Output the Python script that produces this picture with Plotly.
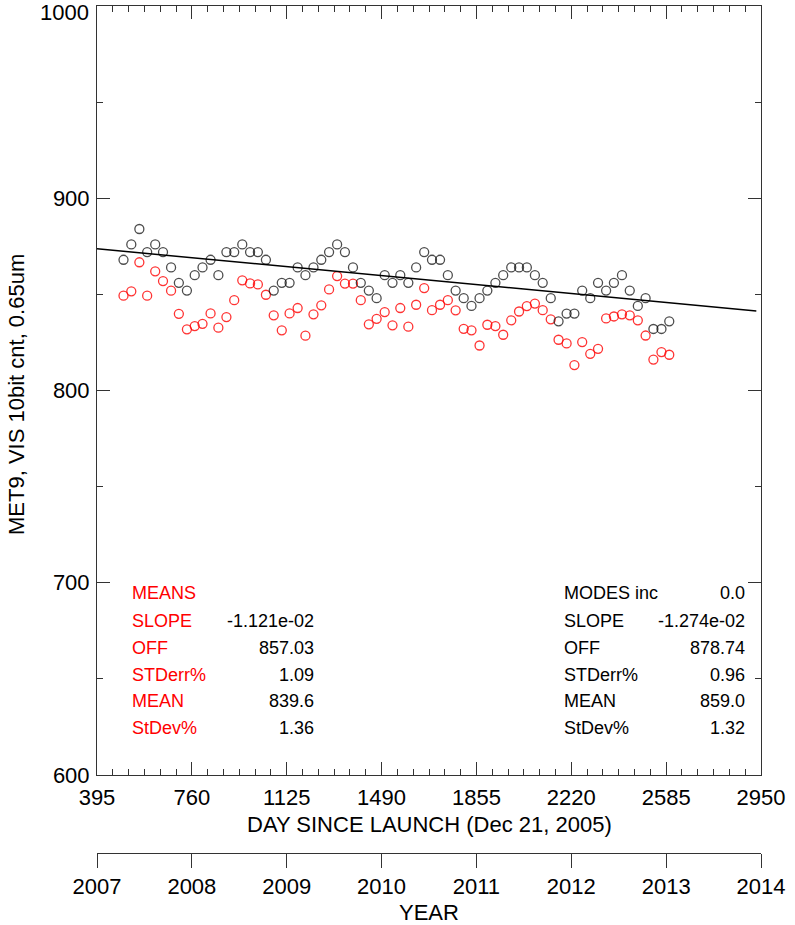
import plotly.graph_objects as go

# ---- data ----
days = [497, 527, 558, 588, 619, 649, 680, 710, 741, 771,
        801, 832, 862, 893, 923, 954, 984, 1014, 1045, 1075,
        1106, 1136, 1167, 1197, 1228, 1258, 1288, 1319, 1349, 1380,
        1410, 1441, 1471, 1502, 1532, 1562, 1593, 1623, 1654, 1684,
        1715, 1745, 1775, 1806, 1836, 1867, 1897, 1928, 1958, 1989,
        2019, 2049, 2080, 2110, 2141, 2171, 2202, 2232, 2262, 2293,
        2323, 2354, 2384, 2415, 2445, 2476, 2506, 2536, 2567, 2597]

modes = [868, 876, 884, 872, 876, 872, 864, 856, 852, 860,
         864, 868, 860, 872, 872, 876, 872, 872, 868, 852,
         856, 856, 864, 860, 864, 868, 872, 876, 872, 864,
         856, 852, 848, 860, 856, 860, 856, 864, 872, 868,
         868, 860, 852, 848, 844, 848, 852, 856, 860, 864,
         864, 864, 860, 856, 848, 836, 840, 840, 852, 848,
         856, 852, 856, 860, 852, 844, 848, 832, 832, 836]

means = [849.3, 851.6, 866.7, 849.3, 862.0, 856.9, 851.9, 839.9, 831.8, 833.5,
         834.7, 840.1, 832.7, 838.2, 847.0, 857.3, 855.7, 855.2, 849.8, 839.1,
         831.3, 840.1, 842.9, 828.5, 839.6, 844.3, 852.6, 859.5, 855.6, 855.6,
         847.0, 834.4, 837.3, 840.8, 833.9, 842.9, 833.2, 844.6, 853.3, 841.8,
         844.6, 847.0, 841.7, 832.1, 831.3, 823.4, 834.2, 833.5, 829.0, 836.5,
         841.1, 843.9, 845.2, 841.8, 837.0, 826.4, 824.5, 813.2, 825.2, 819.1,
         821.7, 837.5, 838.5, 839.6, 839.1, 836.5, 828.6, 816.1, 820.0, 818.6]

fit_slope = -1.274e-02
fit_off = 878.74
fit_days = [395, 2932]

day_ticks = [395, 760, 1125, 1490, 1855, 2220, 2585, 2950]
year_ticks = [2007, 2008, 2009, 2010, 2011, 2012, 2013, 2014]
y_ticks = [600, 700, 800, 900, 1000]

left_labels = ["MEANS", "SLOPE", "OFF", "STDerr%", "MEAN", "StDev%"]
left_values = ["", "-1.121e-02", "857.03", "1.09", "839.6", "1.36"]
right_labels = ["MODES inc", "SLOPE", "OFF", "STDerr%", "MEAN", "StDev%"]
right_values = ["0.0", "-1.274e-02", "878.74", "0.96", "859.0", "1.32"]

FONT = "Liberation Sans, Arial, Helvetica, sans-serif"
AX = "#333333"

fig = go.Figure()

fig.add_trace(go.Scatter(
    x=days, y=means, mode="markers",
    marker=dict(symbol="circle-open", size=9, color="rgba(255,0,0,0.8)",
                line=dict(width=1.3, color="rgba(255,0,0,0.8)")),
    showlegend=False, hoverinfo="skip"))

fig.add_trace(go.Scatter(
    x=days, y=modes, mode="markers",
    marker=dict(symbol="circle-open", size=9, color="rgba(0,0,0,0.7)",
                line=dict(width=1.3, color="rgba(0,0,0,0.7)")),
    showlegend=False, hoverinfo="skip"))

fig.add_trace(go.Scatter(
    x=fit_days, y=[fit_off + fit_slope * d for d in fit_days], mode="lines",
    line=dict(color="black", width=1.5),
    showlegend=False, hoverinfo="skip"))

# dummy trace on the year axis
fig.add_trace(go.Scatter(
    x=[year_ticks[0], year_ticks[-1]], y=[700, 700], xaxis="x2", yaxis="y",
    mode="markers", marker=dict(opacity=0, size=1),
    showlegend=False, hoverinfo="skip"))

L, R, T, B = 97, 34, 6, 72
W, H = 795, 925
pw = W - L - R
ph = H - T - B
main_bottom = (H - B - 775) / ph

fig.update_layout(
    width=W, height=H,
    margin=dict(l=L, r=R, t=T, b=B),
    paper_bgcolor="white", plot_bgcolor="white",
    font=dict(family=FONT, size=22, color="black"),
    xaxis=dict(
        range=[395, 2950], tickvals=day_ticks, ticktext=[str(v) for v in day_ticks],
        ticks="inside", ticklen=13, tickwidth=1, tickcolor=AX,
        showline=True, linecolor=AX, linewidth=1, mirror="ticks",
        showgrid=False, zeroline=False,
        minor=dict(tick0=395, dtick=365 / 6, ticks="inside", ticklen=6,
                   tickcolor=AX, tickwidth=1, showgrid=False),
        tickfont=dict(size=22, color="black"),
        ticklabelstandoff=3,
        anchor="y", automargin=False,
    ),
    yaxis=dict(
        range=[600, 1000], tickvals=y_ticks,
        ticktext=[str(v) for v in y_ticks[:-1]] + [""],
        ticks="inside", ticklen=13, tickwidth=1, tickcolor=AX,
        showline=True, linecolor=AX, linewidth=1, mirror="ticks",
        showgrid=False, zeroline=False,
        minor=dict(dtick=50, ticks="inside", ticklen=6, tickcolor=AX,
                   tickwidth=1, showgrid=False),
        tickfont=dict(size=22, color="black"),
        ticklabelstandoff=2,
        domain=[main_bottom, 1], automargin=False,
    ),
    xaxis2=dict(
        range=[2007, 2014], tickvals=year_ticks, ticktext=[str(v) for v in year_ticks],
        overlaying="x", anchor="free", position=0, side="bottom",
        ticks="outside", ticklen=14, tickwidth=1, tickcolor=AX,
        showline=True, linecolor=AX, linewidth=1,
        showgrid=False, zeroline=False,
        tickfont=dict(size=22, color="black"),
        automargin=False,
    ),
)

def px_x(px):
    return (px - L) / pw

def px_y(py):
    return (H - B - py) / ph

ann = []
ann.append(dict(text="DAY SINCE LAUNCH (Dec 21, 2005)", x=px_x(429), y=px_y(824),
                xref="paper", yref="paper", showarrow=False,
                xanchor="center", yanchor="middle", font=dict(size=22)))
ann.append(dict(text="YEAR", x=px_x(429), y=px_y(913),
                xref="paper", yref="paper", showarrow=False,
                xanchor="center", yanchor="middle", font=dict(size=22)))
ann.append(dict(text="MET9, VIS 10bit cnt, 0.65um", x=px_x(17), y=px_y(395),
                xref="paper", yref="paper", showarrow=False, textangle=-90,
                xanchor="center", yanchor="middle", font=dict(size=22)))
ann.append(dict(text="1000", x=px_x(91), y=px_y(13),
                xref="paper", yref="paper", showarrow=False,
                xanchor="right", yanchor="middle", font=dict(size=22)))

rows_py = [593, 621, 648, 675, 701, 728]
for i, py in enumerate(rows_py):
    ann.append(dict(text=left_labels[i], x=px_x(130), y=px_y(py),
                    xref="paper", yref="paper", showarrow=False,
                    xanchor="left", yanchor="middle",
                    font=dict(size=18, color="#ff0000")))
    if left_values[i]:
        ann.append(dict(text=left_values[i], x=px_x(316), y=px_y(py),
                        xref="paper", yref="paper", showarrow=False,
                        xanchor="right", yanchor="middle",
                        font=dict(size=18, color="black")))
    ann.append(dict(text=right_labels[i], x=px_x(562), y=px_y(py),
                    xref="paper", yref="paper", showarrow=False,
                    xanchor="left", yanchor="middle",
                    font=dict(size=18, color="black")))
    ann.append(dict(text=right_values[i], x=px_x(747), y=px_y(py),
                    xref="paper", yref="paper", showarrow=False,
                    xanchor="right", yanchor="middle",
                    font=dict(size=18, color="black")))

fig.update_layout(annotations=ann)

fig.write_html("out.html")
